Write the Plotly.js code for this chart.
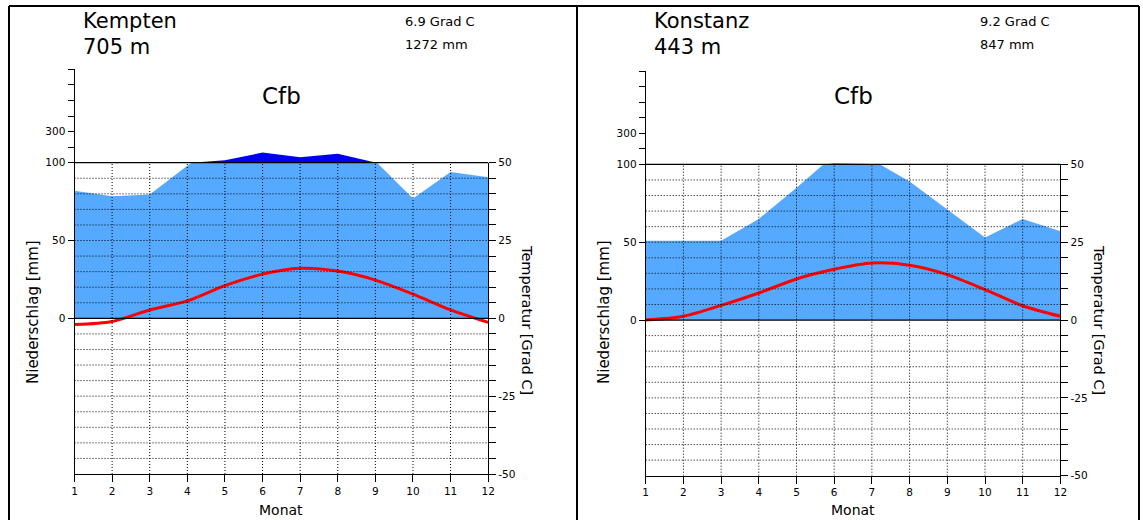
<!DOCTYPE html>
<html>
<head>
<meta charset="utf-8">
<script src="https://cdn.plot.ly/plotly-3.0.1.min.js"></script>
<style>
  html, body { margin: 0; padding: 0; background: #fff; }
  #chart { width: 1143px; height: 520px; }
</style>
</head>
<body>
<div id="chart"></div>
<script>
// Climate diagrams (Walter/Lieth style) for two stations
const months = [1, 2, 3, 4, 5, 6, 7, 8, 9, 10, 11, 12];

const kemptenPrecip = [82, 78.5, 79.5, 98, 115, 165, 135, 157, 101, 77, 94, 90.6];
const kemptenTemp   = [-2.0, -1.0, 2.7, 5.6, 10.5, 14.2, 16.1, 15.2, 12.3, 7.8, 2.7, -1.3];

const konstanzPrecip = [51, 51, 51, 65, 85, 106, 103, 89, 71, 53, 65, 57];
const konstanzTemp   = [0.0, 1.2, 4.7, 8.7, 13.2, 16.3, 18.3, 17.6, 14.6, 9.8, 4.6, 1.2];

const stationNames   = ['Kempten', 'Konstanz'];
const stationHeights = ['705 m', '443 m'];
const stationMeans   = ['6.9 Grad C', '9.2 Grad C'];
const stationTotals  = ['1272 mm', '847 mm'];
const climateClass   = ['Cfb', 'Cfb'];

const tempTicks   = [-50, -45, -40, -35, -30, -25, -20, -15, -10, -5, 0, 5, 10, 15, 20, 25, 30, 35, 40, 45, 50];
const tempLabeled = [-50, -25, 0, 25, 50];
const highTicks   = [200, 300, 400, 500, 600, 700];

const W = 1143, H = 520;
const FONT = 'DejaVu Sans, Verdana, sans-serif';
const LIGHT = '#55a9ff';
const DARK = '#0000f0';

const px = v => v / W;
const py = v => 1 - v / H;

// pixel geometry of each panel
const panels = [
  { x0: 74.5, x1: 488.2, yTop: 69.3, y100: 162.7, yBot: 474.0, textX: 84, infoX: 405, midX: 281, leftLab: 33, rightLab: 527 },
  { x0: 645.7, x1: 1060.4, yTop: 71.0, y100: 164.4, yBot: 475.7, textX: 655, infoX: 980, midX: 853, leftLab: 604, rightLab: 1099 }
];

const precip = [kemptenPrecip, konstanzPrecip];
const temps = [kemptenTemp, konstanzTemp];

const data = [];
const layout = {
  width: W, height: H,
  margin: { l: 0, r: 0, t: 0, b: 0 },
  paper_bgcolor: '#fff', plot_bgcolor: 'rgba(0,0,0,0)',
  showlegend: false,
  font: { family: FONT, color: '#000', size: 11 },
  shapes: [], annotations: []
};

const axKey = id => (id.length === 1 ? id + 'axis' : id[0] + 'axis' + id.slice(1));
const tickFont = { size: 10.5, family: FONT, color: '#000' };

panels.forEach((p, i) => {
  const xa = i === 0 ? 'x' : 'x2';
  const yP = i === 0 ? 'y' : 'y4';   // precipitation 0..100 mm
  const yT = i === 0 ? 'y2' : 'y5';  // temperature
  const yH = i === 0 ? 'y3' : 'y6';  // precipitation above 100 mm (compressed)

  const lowDomain = [py(p.yBot), py(p.y100)];
  const highDomain = [py(p.y100), py(p.yTop)];

  layout[axKey(xa)] = {
    domain: [px(p.x0), px(p.x1)], range: [1, 12], anchor: yP,
    tickvals: months, ticks: 'outside', ticklen: 7, tickcolor: '#000',
    showline: true, linecolor: '#000', linewidth: 1,
    showgrid: false, zeroline: false, fixedrange: true, tickfont: tickFont
  };
  layout[axKey(yP)] = {
    domain: lowDomain, range: [-100, 100], anchor: xa,
    tickvals: [0, 50, 100], ticktext: ['0', '50', '100'],
    ticks: 'outside', ticklen: 6, tickcolor: '#000',
    showline: true, linecolor: '#000', linewidth: 1,
    showgrid: false, zeroline: false, fixedrange: true, tickfont: tickFont
  };
  layout[axKey(yT)] = {
    overlaying: yP, side: 'right', anchor: xa, range: [-50, 50],
    tickvals: tempTicks,
    ticktext: tempTicks.map(t => tempLabeled.includes(t) ? String(t) : ''),
    ticks: 'outside', ticklen: 7, tickcolor: '#000',
    showline: true, linecolor: '#000', linewidth: 1,
    showgrid: false, zeroline: false, fixedrange: true, tickfont: tickFont
  };
  layout[axKey(yH)] = {
    domain: highDomain, range: [100, 700], anchor: xa,
    tickvals: highTicks, ticktext: highTicks.map(v => v === 300 ? '300' : ''),
    ticks: 'outside', ticklen: 6, tickcolor: '#000',
    showline: true, linecolor: '#000', linewidth: 1,
    showgrid: false, zeroline: false, fixedrange: true, tickfont: tickFont
  };

  // humid area up to 100 mm
  data.push({
    x: months, y: precip[i], xaxis: xa, yaxis: yP,
    type: 'scatter', mode: 'lines', fill: 'tozeroy',
    fillcolor: LIGHT, line: { width: 0, color: LIGHT }, hoverinfo: 'skip'
  });
  // perhumid area above 100 mm on the compressed scale
  data.push({
    x: months, y: precip[i], xaxis: xa, yaxis: yH,
    type: 'scatter', mode: 'lines', fill: 'tozeroy',
    fillcolor: DARK, line: { width: 0, color: DARK }, hoverinfo: 'skip'
  });
  // monthly mean temperature
  data.push({
    x: months, y: temps[i], xaxis: xa, yaxis: yT,
    type: 'scatter', mode: 'lines',
    line: { color: '#ff0000', width: 3, shape: 'spline', smoothing: 0.8 },
    hoverinfo: 'skip'
  });

  // dotted grid drawn over the filled areas
  tempTicks.forEach(t => {
    if (t === -50 || t === 50 || t === 0) return;
    layout.shapes.push({
      type: 'line', xref: xa, yref: yT, x0: 1, x1: 12, y0: t, y1: t, layer: 'above',
      line: { color: '#000', width: 1, dash: '1px,2px' }
    });
  });
  months.slice(1, 11).forEach(m => {
    layout.shapes.push({
      type: 'line', xref: xa, yref: yT, x0: m, x1: m, y0: -50, y1: 50, layer: 'above',
      line: { color: '#000', width: 1, dash: '1px,2px' }
    });
  });
  // solid reference lines at 0 and at 100 mm / 50 Grad C
  layout.shapes.push({
    type: 'line', xref: xa, yref: yT, x0: 1, x1: 12, y0: 0, y1: 0, layer: 'above',
    line: { color: '#000', width: 1.2 }
  });
  layout.shapes.push({
    type: 'line', xref: 'paper', yref: 'paper', x0: px(p.x0), x1: px(p.x1),
    y0: py(p.y100), y1: py(p.y100), layer: 'above',
    line: { color: '#000', width: 1.2 }
  });

  const ann = (text, x, y, size, xanchor, yanchor, angle) => ({
    text, x: px(x), y: py(y), xref: 'paper', yref: 'paper',
    xanchor, yanchor, showarrow: false, textangle: angle || 0,
    font: { family: FONT, size, color: '#000' }
  });
  layout.annotations.push(ann(stationNames[i], p.textX - 3, 7, 21, 'left', 'top'));
  layout.annotations.push(ann(stationHeights[i], p.textX - 3, 33, 21, 'left', 'top'));
  layout.annotations.push(ann(stationMeans[i], p.infoX - 2, 12, 13, 'left', 'top'));
  layout.annotations.push(ann(stationTotals[i], p.infoX - 2, 35, 13, 'left', 'top'));
  layout.annotations.push(ann(climateClass[i], p.midX, 96, 23, 'center', 'middle'));
  layout.annotations.push(ann('Monat', p.midX, 510, 14, 'center', 'middle'));
  layout.annotations.push(ann('Niederschlag [mm]', p.leftLab, 312, 15, 'center', 'middle', -90));
  layout.annotations.push(ann('Temperatur [Grad C]', p.rightLab, 320, 14.5, 'center', 'middle', 90));
});

// panel frames
const frame = (x0, y0, x1, y1) => ({
  type: 'line', xref: 'paper', yref: 'paper',
  x0: px(x0), y0: py(y0), x1: px(x1), y1: py(y1),
  line: { color: '#000', width: 2 }, layer: 'above'
});
layout.shapes.push(frame(9, 6, 1139, 6));
layout.shapes.push(frame(9, 6, 9, 520));
layout.shapes.push(frame(577, 6, 577, 520));
layout.shapes.push(frame(1139, 6, 1139, 520));

Plotly.newPlot('chart', data, layout, { staticPlot: true, displayModeBar: false });
</script>
</body>
</html>
